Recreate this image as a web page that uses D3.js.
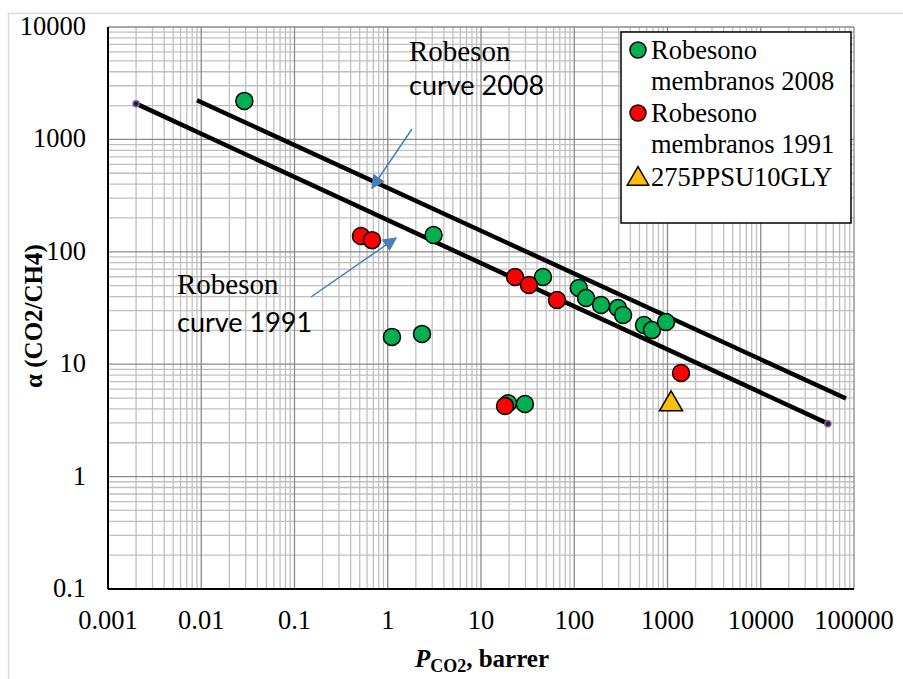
<!DOCTYPE html>
<html><head><meta charset="utf-8">
<script src="https://cdn.jsdelivr.net/npm/d3@7"></script>
<style>body{margin:0;background:#fff}svg{display:block}</style>
</head><body>
<svg id="chart" width="903" height="679"></svg>
<script>
const xTicks = [0.001,0.01,0.1,1,10,100,1000,10000,100000];
const xTickLabels = ["0.001","0.01","0.1","1","10","100","1000","10000","100000"];
const yTicks = [0.1,1,10,100,1000,10000];
const yTickLabels = ["0.1","1","10","100","1000","10000"];

const green2008 = [[0.029,2200],[3.1,141],[1.11,17.5],[2.33,18.6],[19.5,4.5],[29.6,4.43],[46.2,59.7],[112,47.7],[134,38.8],[194,33.6],[294,31.6],[334,27.4],[560,22.3],[682,20.1],[964,23.7]];
const red1991 = [[0.516,138],[0.678,127],[23.2,59.7],[32.7,50.7],[65.3,37.2],[1397,8.36],[18.1,4.25]];
const ppsu = [[1092,4.6]];
const curve1991 = [[0.002,2080],[52500,2.96]];
const curve2008 = [[0.009,2230],[82000,4.95]];
const legendLabels = [["Robesono","membranos 2008"],["Robesono","membranos 1991"],["275PPSU10GLY"]];

const svg = d3.select("#chart");
const L=108,R=854,T=27,B=589;
const x = d3.scaleLog().domain([0.001,100000]).range([L,R]);
const y = d3.scaleLog().domain([0.1,10000]).range([B,T]);

svg.append("rect").attr("x",8.5).attr("y",13.5).attr("width",900).attr("height",670)
  .attr("fill","#fff").attr("stroke","#d9d9d9").attr("stroke-width",1.5);

// grid
const minorX=[], minorY=[];
for(let e=-3;e<5;e++) for(let k=2;k<10;k++) minorX.push(k*Math.pow(10,e));
for(let e=-1;e<4;e++) for(let k=2;k<10;k++) minorY.push(k*Math.pow(10,e));
const g = svg.append("g");
g.selectAll(".mx").data(minorX).join("line").attr("x1",d=>x(d)).attr("x2",d=>x(d)).attr("y1",T).attr("y2",B)
  .attr("stroke","#c0c0c0").attr("stroke-width",1.3);
g.selectAll(".my").data(minorY).join("line").attr("y1",d=>y(d)).attr("y2",d=>y(d)).attr("x1",L).attr("x2",R)
  .attr("stroke","#c0c0c0").attr("stroke-width",1.3);
g.selectAll(".Mx").data(xTicks).join("line").attr("x1",d=>x(d)).attr("x2",d=>x(d)).attr("y1",T).attr("y2",B)
  .attr("stroke","#8a8a8a").attr("stroke-width",1.3);
g.selectAll(".My").data(yTicks).join("line").attr("y1",d=>y(d)).attr("y2",d=>y(d)).attr("x1",L).attr("x2",R)
  .attr("stroke","#8a8a8a").attr("stroke-width",1.3);

// axes
svg.append("line").attr("x1",L).attr("x2",L).attr("y1",T).attr("y2",B).attr("stroke","#000").attr("stroke-width",2);
svg.append("line").attr("x1",L).attr("x2",R).attr("y1",B).attr("y2",B).attr("stroke","#000").attr("stroke-width",2);

const serif = "Liberation Serif";
const sans = "Lato";
svg.selectAll(".xl").data(xTicks).join("text").attr("x",d=>x(d)).attr("y",B+40)
  .attr("text-anchor","middle").style("font-family",serif).style("font-size","26.5px").text((d,i)=>xTickLabels[i]);
svg.selectAll(".yl").data(yTicks).join("text").attr("x",L-22).attr("y",d=>y(d)+8)
  .attr("text-anchor","end").style("font-family",serif).style("font-size","26.5px").text((d,i)=>yTickLabels[i]);

// axis titles
const xt = svg.append("text").attr("x",482).attr("y",667).attr("text-anchor","middle")
  .style("font-family",serif).style("font-size","25px").style("font-weight","bold");
xt.append("tspan").style("font-style","italic").text("P");
xt.append("tspan").style("font-size","18px").attr("dy",5).text("CO2");
xt.append("tspan").attr("dy",-5).text(", barrer");
svg.append("text").attr("transform","translate(42,316) rotate(-90)").attr("text-anchor","middle")
  .style("font-family",serif).style("font-size","25px").style("font-weight","bold").text("α (CO2/CH4)");

// curves
const line = d3.line().x(d=>x(d[0])).y(d=>y(d[1]));
svg.append("path").attr("d",line(curve2008)).attr("stroke","#000").attr("stroke-width",4.5).attr("fill","none");
svg.append("path").attr("d",line(curve1991)).attr("stroke","#000").attr("stroke-width",4.5).attr("fill","none");
svg.selectAll(".ce").data(curve1991).join("circle").attr("cx",d=>x(d[0])).attr("cy",d=>y(d[1])).attr("r",3)
  .attr("fill","#222").attr("stroke","#7d5fa8").attr("stroke-width",1.5);

// points
function circles(data,fill){
  svg.append("g").selectAll("circle").data(data).join("circle").attr("cx",d=>x(d[0])).attr("cy",d=>y(d[1])).attr("r",8.5)
    .attr("fill",fill).attr("stroke","#000").attr("stroke-width",1.5);
}
circles(green2008,"#00b050");
circles(red1991,"#ff0000");
const tri = d3.symbol().type(d3.symbolTriangle).size(230);
svg.append("g").selectAll("path").data(ppsu).join("path").attr("d",tri)
  .attr("transform",d=>`translate(${x(d[0])},${y(d[1])+2})`).attr("fill","#ffc000").attr("stroke","#000").attr("stroke-width",1.5);

// annotations
svg.append("text").attr("x",409).attr("y",61).style("font-family",serif).style("font-size","29px").text("Robeson");
svg.append("text").attr("x",409).attr("y",95).style("font-family",sans).style("font-size","27px").text("curve 2008");
svg.append("text").attr("x",177).attr("y",294).style("font-family",serif).style("font-size","29px").text("Robeson");
svg.append("text").attr("x",177).attr("y",332).style("font-family",sans).style("font-size","27px").text("curve 1991");

const defs = svg.append("defs");
defs.append("marker").attr("id","ah").attr("viewBox","0 0 10 10").attr("refX",9).attr("refY",5)
  .attr("markerWidth",14).attr("markerHeight",14).attr("orient","auto").attr("markerUnits","userSpaceOnUse")
  .append("path").attr("d","M0,0L10,5L0,10z").attr("fill","#4a7ebb");
svg.append("line").attr("x1",412).attr("y1",129).attr("x2",372).attr("y2",188).attr("stroke","#4a7ebb").attr("stroke-width",1.5).attr("marker-end","url(#ah)");
svg.append("line").attr("x1",311).attr("y1",297).attr("x2",396).attr("y2",238).attr("stroke","#4a7ebb").attr("stroke-width",1.5).attr("marker-end","url(#ah)");

// legend
const lg = svg.append("g");
lg.append("rect").attr("x",621).attr("y",32).attr("width",230).attr("height",191).attr("fill","#fff").attr("stroke","#000").attr("stroke-width",1.5);
const legY=[50,113,177];
const legFill=["#00b050","#ff0000","#ffc000"];
legendLabels.forEach((lab,i)=>{
  if(i<2) lg.append("circle").attr("cx",638).attr("cy",legY[i]).attr("r",8).attr("fill",legFill[i]).attr("stroke","#000").attr("stroke-width",1.5);
  else lg.append("path").attr("d",d3.symbol().type(d3.symbolTriangle).size(200)).attr("transform",`translate(638,${legY[i]+2})`).attr("fill",legFill[i]).attr("stroke","#000").attr("stroke-width",1.5);
  lab.forEach((t,j)=>lg.append("text").attr("x",651).attr("y",legY[i]+9+j*31).style("font-family",serif).style("font-size","26.5px").text(t));
});
</script>
</body></html>
